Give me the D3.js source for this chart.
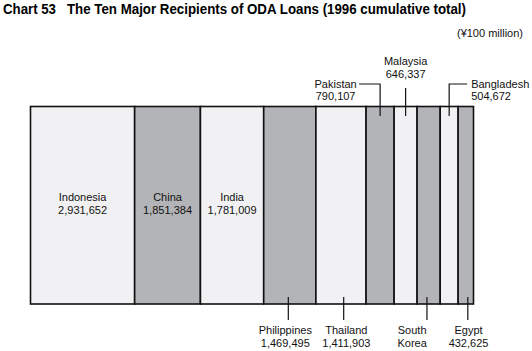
<!DOCTYPE html>
<html>
<head>
<meta charset="utf-8">
<script src="https://cdn.jsdelivr.net/npm/d3@7"></script>
<style>
  body { margin: 0; background: #fff; }
  svg { display: block; font-family: "Liberation Sans", Arial, Helvetica, sans-serif; }
</style>
</head>
<body>
<svg id="chart" width="532" height="351"></svg>
<script>
// ten major recipients, in the order they are stacked
const countries = ["Indonesia", "China", "India", "Philippines", "Thailand",
                   "Pakistan", "Malaysia", "South Korea", "Bangladesh", "Egypt"];
// ¥100 million, cumulative to 1996 (South Korea not printed, estimated from width)
const loans = [2931652, 1851384, 1781009, 1469495, 1411903,
               790107, 646337, 650000, 504672, 432625];

const title = "Chart 53";
const subtitle = "The Ten Major Recipients of ODA Loans (1996 cumulative total)";
const unit = "(¥100 million)";

const svg = d3.select("#chart");
const fmt = d3.format(",");

const barLeft = 30.5, barRight = 473.5, barTop = 106.5, barBottom = 304;
const total = d3.sum(loans);
const x = d3.scaleLinear().domain([0, total]).range([barLeft, barRight]);

let acc = 0;
const segs = countries.map((name, i) => {
  const s = { name, value: loans[i], i, x0: acc, x1: acc + loans[i] };
  acc += loans[i];
  return s;
});

// where each label goes
const inside = ["Indonesia", "China", "India"];
const below = ["Philippines", "Thailand", "South Korea", "Egypt"];
// small nudges of leader / text off the bar centre, as printed
const nudge = {
  "Philippines": [-1.5, -4.5],
  "Thailand": [2.7, 5.4],
  "South Korea": [-1.7, -16.5],
  "Egypt": [2, 2.7]
};

// title
svg.append("text").attr("x", 3).attr("y", 13.5)
  .attr("font-size", 14).attr("font-weight", "bold")
  .attr("textLength", 53).attr("lengthAdjust", "spacingAndGlyphs")
  .text(title);
svg.append("text").attr("x", 67).attr("y", 13.5)
  .attr("font-size", 14).attr("font-weight", "bold")
  .attr("textLength", 399).attr("lengthAdjust", "spacingAndGlyphs")
  .text(subtitle);

svg.append("text").attr("x", 523).attr("y", 36.5)
  .attr("font-size", 11).attr("text-anchor", "end").attr("fill", "#111")
  .text(unit);

// bars
svg.append("g").selectAll("rect")
  .data(segs).join("rect")
  .attr("x", d => x(d.x0))
  .attr("y", barTop)
  .attr("width", d => x(d.x1) - x(d.x0))
  .attr("height", barBottom - barTop)
  .attr("fill", d => d.i % 2 === 0 ? "#f1f1f3" : "#b3b4b7")
  .attr("stroke", "#111")
  .attr("stroke-width", 1.6);

const mid = d => (x(d.x0) + x(d.x1)) / 2;
const lines = d => d.name === "South Korea" ? ["South", "Korea"] : [d.name, fmt(d.value)];

function label(g, cx, y0, arr, anchor) {
  arr.forEach((t, k) => {
    g.append("text")
      .attr("x", cx).attr("y", y0 + k * 12.5)
      .attr("font-size", 11).attr("fill", "#111")
      .attr("text-anchor", anchor || "middle")
      .text(t);
  });
}

const lab = svg.append("g");
const lead = svg.append("g").attr("stroke", "#111").attr("stroke-width", 1.2).attr("fill", "none");

segs.forEach(d => {
  const cx = mid(d);
  if (inside.includes(d.name)) {
    label(lab, cx, 201, lines(d));
  } else if (below.includes(d.name)) {
    const [dl, dt] = nudge[d.name];
    lead.append("line").attr("x1", cx + dl).attr("x2", cx + dl)
      .attr("y1", barBottom - 7).attr("y2", 320);
    label(lab, cx + dt, 334, lines(d));
  } else if (d.name === "Pakistan") {
    lead.append("path").attr("d", `M${cx - 21},84H${cx}V116`);
    label(lab, cx - 44.5, 87.5, lines(d));
  } else if (d.name === "Malaysia") {
    lead.append("line").attr("x1", cx).attr("x2", cx).attr("y1", 88).attr("y2", 116);
    label(lab, cx, 65, lines(d));
  } else if (d.name === "Bangladesh") {
    lead.append("path").attr("d", `M${cx + 18},84H${cx}V116`);
    label(lab, cx + 22, 87.5, lines(d), "start");
  }
});
</script>
</body>
</html>
